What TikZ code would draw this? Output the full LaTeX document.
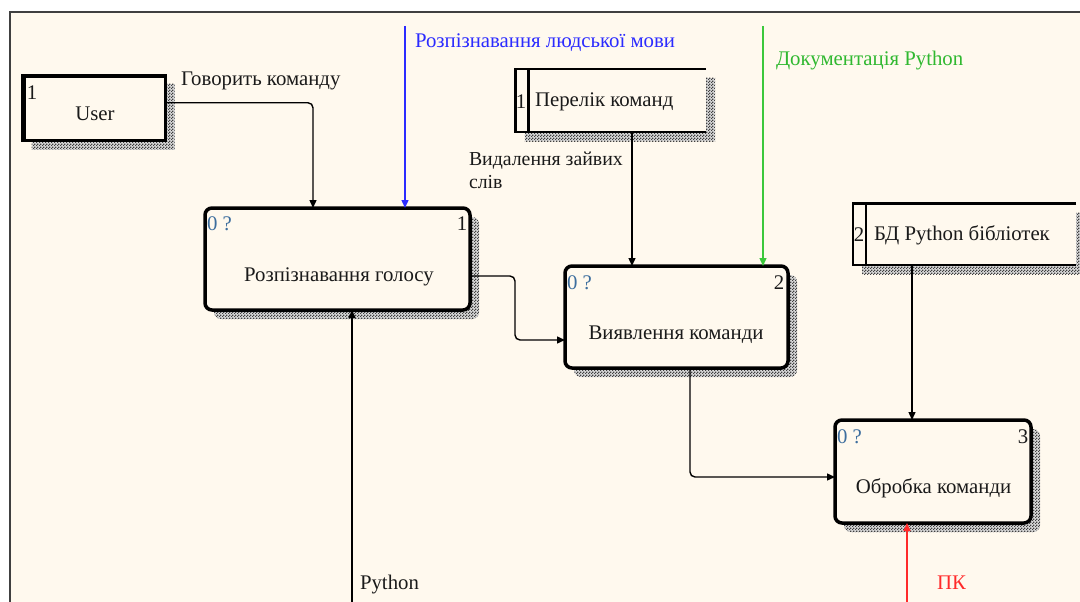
\documentclass[tikz,border=0pt]{standalone}
\usepackage{fontspec}
\setmainfont{Liberation Serif}
\usetikzlibrary{arrows.meta,patterns,backgrounds}
\definecolor{bgc}{HTML}{FFF9EE}
\definecolor{framec}{HTML}{404040}
\definecolor{bluec}{HTML}{2B2BFF}
\definecolor{greenc}{HTML}{3CC83C}
\definecolor{greent}{HTML}{30B830}
\definecolor{redc}{HTML}{FF2A2A}
\definecolor{numc}{HTML}{3D6E9E}
\definecolor{txtc}{HTML}{1A1A1A}
\pgfdeclarepatternformonly{shadechk}{\pgfqpoint{0pt}{0pt}}{\pgfqpoint{3pt}{3pt}}{\pgfqpoint{3pt}{3pt}}{%
  \pgfpathrectangle{\pgfqpoint{0pt}{0pt}}{\pgfqpoint{1.5pt}{1.5pt}}%
  \pgfpathrectangle{\pgfqpoint{1.5pt}{1.5pt}}{\pgfqpoint{1.5pt}{1.5pt}}%
  \pgfusepath{fill}}
\tikzset{
  procbox/.style={draw=black, line width=3.5pt, rounded corners=7pt, fill=bgc, inner sep=0pt, outer sep=0pt},
  userbox/.style={draw=black, line width=2.5pt, fill=bgc, inner sep=0pt, outer sep=0pt},
  storebox/.style={fill=bgc, inner sep=0pt, outer sep=0pt},
  storeline/.style={line width=2.5pt, draw=black},
  shadowfill/.style={fill=gray!30},
  shadowpat/.style={pattern=shadechk, pattern color=black!75},
  conn/.style={draw=black, line width=1.4pt, rounded corners=5pt, -{Triangle[length=8pt,width=7pt]}},
  lbl/.style={inner sep=0pt, outer sep=0pt, text=txtc, font=\fontsize{20.8}{23}\selectfont},
  num/.style={inner sep=0pt, outer sep=0pt, text=numc, font=\fontsize{20.8}{23}\selectfont},
}
\begin{document}
\begin{tikzpicture}[x=1pt,y=-1pt]
\useasboundingbox (0,0) rectangle (1080,602);
% boxes
\node[userbox, minimum width=143pt, minimum height=65.5pt] (user) at (94,107.75) {};
\node[procbox, minimum width=265pt, minimum height=102pt] (p1) at (337.5,259) {};
\node[procbox, minimum width=223pt, minimum height=102pt] (p2) at (676.5,317) {};
\node[procbox, minimum width=196pt, minimum height=103pt] (p3) at (933,471.5) {};
\node[storebox, minimum width=190.5pt, minimum height=63pt] (ds1) at (610.75,100.5) {};
\node[storebox, minimum width=223pt, minimum height=61.5pt] (ds2) at (964.5,234.25) {};
% background layer: canvas and shadows
\begin{scope}[on background layer]
\fill[white] (0,0) rectangle (1080,602);
\fill[bgc] (10,12) rectangle (1080,602);
\draw[framec, line width=2pt] (10,602) -- (10,12) -- (1080,12);
\foreach \s in {shadowfill,shadowpat}{
\path[\s] ([shift={(9,9)}]user.north west) rectangle ([shift={(9,9)}]user.south east);
\path[\s, rounded corners=7pt] ([shift={(9,9)}]p1.north west) rectangle ([shift={(9,9)}]p1.south east);
\path[\s, rounded corners=7pt] ([shift={(9,9)}]p2.north west) rectangle ([shift={(9,9)}]p2.south east);
\path[\s, rounded corners=7pt] ([shift={(9,9)}]p3.north west) rectangle ([shift={(9,9)}]p3.south east);
\path[\s] ([shift={(9,9)}]ds1.north west) rectangle ([shift={(9,9)}]ds1.south east);
\path[\s] ([shift={(9,9)}]ds2.north west) rectangle ([shift={(9,9)}]ds2.south east);
}
\end{scope}
% user thick edges
\draw[line width=4.5pt] ([xshift=1pt]user.south west) -- ([xshift=1pt,yshift=-1pt]user.north west) -- ([yshift=-1pt]user.north east);
% data store outlines
\draw[storeline] (ds1.north east) -- (ds1.north west) -- (ds1.south west) -- (ds1.south east);
\draw[storeline] ([xshift=13pt]ds1.north west) -- ([xshift=13pt]ds1.south west);
\draw[storeline] (ds2.north east) -- (ds2.north west) -- (ds2.south west) -- (ds2.south east);
\draw[storeline] ([xshift=13pt]ds2.north west) -- ([xshift=13pt]ds2.south west);
% texts in boxes
\node[num, text=txtc] (userN) at (32,93) {1};
\node[lbl] (userT) at (95,114) {User};
\node[lbl] (p1T) at (339,277) {Розпізнавання голосу};
\node[num, anchor=west] (p1Q) at (207,224) {0 ?};
\node[num, text=txtc] (p1N) at (462,224) {1};
\node[lbl] (p2T) at (676,335) {Виявлення команди};
\node[num, anchor=west] (p2Q) at (567,283) {0 ?};
\node[num, text=txtc] (p2N) at (779,283) {2};
\node[lbl] (p3T) at (933.5,488) {Обробка команди};
\node[num, anchor=west] (p3Q) at (837,437) {0 ?};
\node[num, text=txtc] (p3N) at (1023,437) {3};
\node[num, text=txtc] (ds1N) at (521,102) {1};
\node[lbl, anchor=west] (ds1T) at (535,102) {Перелік команд};
\node[num, text=txtc] (ds2N) at (859,235) {2};
\node[lbl, anchor=west] (ds2T) at (874,235) {БД Python бібліотек};
% connector coordinates
\coordinate (ua) at (313,0);
\coordinate (bl) at (405,26);
\coordinate (gr) at (763,26);
\coordinate (d1) at (632,0);
\coordinate (d2) at (912,0);
\coordinate (py) at (352,602);
\coordinate (pk) at (907,602);
\coordinate (k1) at (515,300);
% connectors
\draw[conn] ([yshift=5pt]user.east) -| (ua |- p1.north);
\draw[conn, draw=bluec, -{Triangle[length=8pt,width=7pt,fill=bluec]}] (bl) -- (bl |- p1.north);
\draw[conn] (py) -- (py |- p1.south);
\draw[conn] ([yshift=-17pt]p1.east) -| (k1) |- ([yshift=-23pt]p2.west);
\draw[conn] (d1 |- ds1.south) -- (d1 |- p2.north);
\draw[conn, draw=greenc] (gr) -- (gr |- p2.north);
\draw[conn] (d2 |- ds2.south) -- (d2 |- p3.north);
\draw[conn] ([xshift=13.5pt]p2.south) |- ([yshift=-5.5pt]p3.west);
\draw[conn, draw=redc] (pk) -- (pk |- p3.south);
% connector labels
\node[lbl, anchor=west] (lGov) at (181,81) {Говорить команду};
\node[lbl, anchor=west, text=bluec] (lRoz) at (415,43) {Розпізнавання людської мови};
\node[lbl, anchor=west, text=greent] (lDoc) at (776,61) {Документація Python};
\node[lbl, anchor=north west, align=left, font=\fontsize{19.8}{22.5}\selectfont] (lVyd) at (469,152) {Видалення зайвих\\слів};
\node[lbl, anchor=west] (lPy) at (360,585) {Python};
\node[lbl, anchor=west, text=redc] (lPK) at (937,583) {ПК};
\end{tikzpicture}
\end{document}
